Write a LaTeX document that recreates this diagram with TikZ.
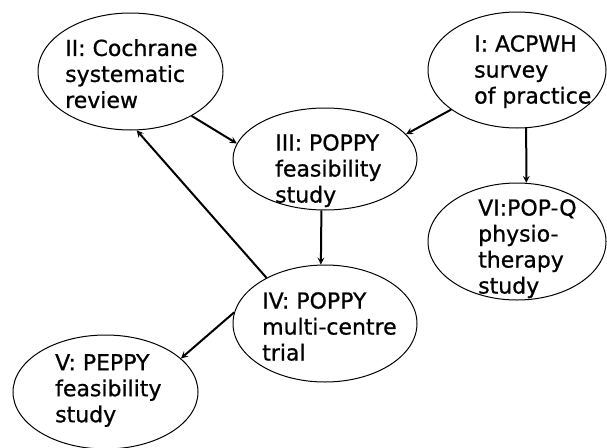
\documentclass[tikz,border=0pt]{standalone}
\usepackage{fontspec}
\setmainfont{DejaVu Sans}[RawFeature={embolden=0.8}]
\usepackage{tikz}
\usetikzlibrary{positioning, shapes.geometric}
\tikzstyle{stage} = [ellipse, draw=black, line width=1pt, inner sep=0pt, minimum width=184pt, minimum height=116pt]
\tikzstyle{stagetext} = [align=left, anchor=north west, inner sep=0pt, font=\fontsize{22}{26}\selectfont]
\tikzstyle{arrow} = [line width=2pt,->,>=stealth]

\begin{document}
\begin{tikzpicture}[x=1pt, y=-1pt]
		\useasboundingbox (0,0) rectangle (607,447);
		%定义椭圆
		\node (s1) [stage, minimum width=178pt] at (517,70) {};
		\node (s2) [stage, minimum width=185pt, minimum height=117pt] at (130.5,71.5) {};
		\node (s3) [stage, minimum height=102pt] at (325,159) {};
		\node (s4) [stage, minimum height=117pt] at (325,323.5) {};
		\node (s5) [stage, minimum width=185pt, minimum height=114pt] at (105.5,392) {};
		\node (s6) [stage, minimum width=178pt, minimum height=117pt] at (517,241.5) {};
		
		%文字
		\node (t1) [stagetext] at (474,35) {I: ACPWH\\survey\\of practice};
		\node (t2) [stagetext] at (65,39) {II: Cochrane\\systematic\\review};
		\node (t3) [stagetext] at (275,134) {III: POPPY\\feasibility\\study};
		\node (t4) [stagetext] at (262,292) {IV: POPPY\\multi-centre\\trial};
		\node (t5) [stagetext] at (55,354) {V: PEPPY\\feasibility\\study};
		\node (t6) [stagetext] at (478,199) {VI:POP-Q\\physio-\\therapy\\study};
		
		%连接
		\draw [arrow](s2.-36) -- (s3.170);
		\draw [arrow](s1.-149) -- (s3.17);
		\draw [arrow](s3.-94.5) -- (s4.94);
		\draw [arrow](s1.-81) -- (s6.81);
		\draw [arrow](s4.142.5) -- (s2.-84);
		\draw [arrow](s4.173.5) -- (s5.24.5);
		
	\end{tikzpicture}
\end{document}
